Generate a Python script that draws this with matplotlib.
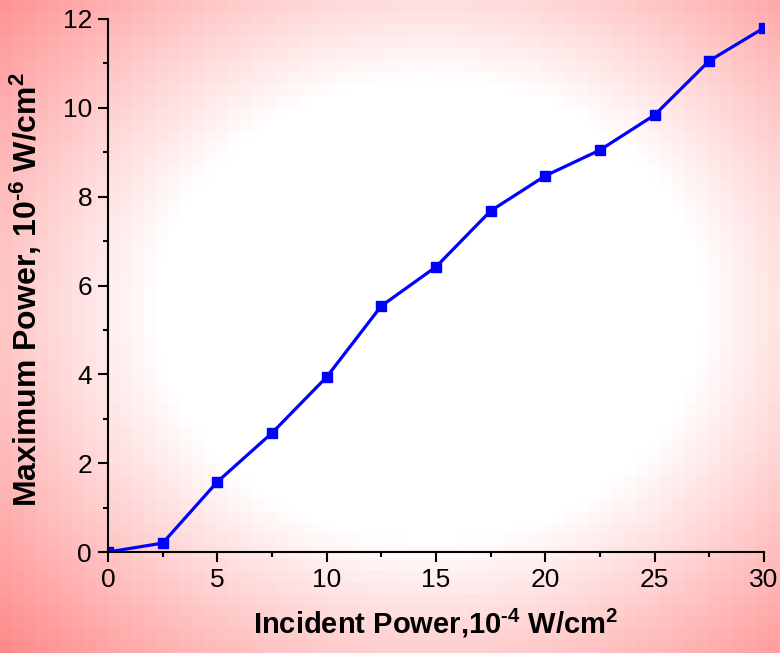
import matplotlib

matplotlib.use("Agg")
import matplotlib.pyplot as plt
import numpy as np
from matplotlib.ticker import MultipleLocator

# data
incident = [0, 2.5, 5, 7.5, 10, 12.5, 15, 17.5, 20, 22.5, 25, 27.5, 30]
max_power = [0.0, 0.2, 1.58, 2.68, 3.94, 5.54, 6.42, 7.68, 8.47, 9.05, 9.84, 11.06, 11.80]

plt.rcParams["font.family"] = ["Liberation Sans", "DejaVu Sans"]
plt.rcParams["mathtext.fontset"] = "custom"
plt.rcParams["mathtext.rm"] = "Liberation Sans:bold"
plt.rcParams["mathtext.default"] = "rm"

W, H = 780, 653
fig = plt.figure(figsize=(W / 100, H / 100), dpi=100)

# radial white-to-pink background, blocky like the original
bg = fig.add_axes([0, 0, 1, 1])
nx, ny = 65, 55
gx = (np.arange(nx) + 0.5) / nx * W
gy = (np.arange(ny) + 0.5) / ny * H
X, Y = np.meshgrid(gx, gy)
r = np.sqrt(((X - 430) / 390) ** 2 + ((Y - 310) / 330) ** 2)
t = np.clip((r - 0.7) / (1.5 - 0.7), 0, 1)[..., None]
white = np.array([1.0, 1.0, 1.0])
pink = np.array([1.0, 0.54, 0.54])
img = white * (1 - t) + pink * t
bg.imshow(img, extent=[0, W, H, 0], interpolation="nearest", aspect="auto")
bg.axis("off")

ax = fig.add_axes([108 / W, 1 - 552 / H, (764 - 108) / W, (552 - 19) / H])
ax.patch.set_alpha(0)
ax.plot(incident, max_power, color="#0000ff", lw=2.3, marker="s", ms=7,
        markeredgecolor="#0000ff")
ax.set_xlim(0, 30)
ax.set_ylim(0, 12)
ax.xaxis.set_major_locator(MultipleLocator(5))
ax.xaxis.set_minor_locator(MultipleLocator(2.5))
ax.yaxis.set_major_locator(MultipleLocator(2))
ax.yaxis.set_minor_locator(MultipleLocator(1))
for side in ("top", "right"):
    ax.spines[side].set_visible(False)
for side in ("left", "bottom"):
    ax.spines[side].set_linewidth(1.5)
ax.tick_params(which="major", direction="out", length=7.5, width=1.5,
               labelsize=19, pad=4)
ax.tick_params(which="minor", direction="out", length=3.5, width=1.5)

ax.set_xlabel("Incident Power,10$^{\u2010 4}$ W/cm$^{2}$", fontsize=21, fontweight="bold")
ax.set_ylabel("Maximum Power, 10$^{\u2010 6}$ W/cm$^{2}$", fontsize=23, fontweight="bold")
ax.xaxis.set_label_coords(0.50, -0.102)
ax.xaxis.label.set_va("top")
ax.yaxis.set_label_coords(-0.098, 0.493)

fig.savefig("out.png", dpi=100)
